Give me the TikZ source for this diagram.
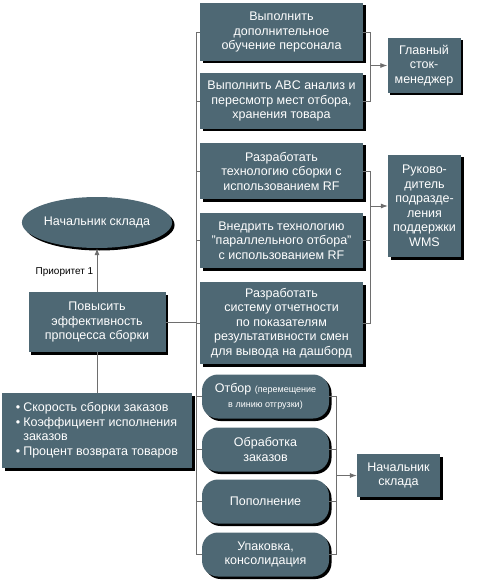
\documentclass[tikz,border=0pt]{standalone}
\usepackage{fontspec}
\setmainfont{Liberation Sans}
\usetikzlibrary{arrows.meta, positioning, shadows, shapes.geometric}
\definecolor{slate}{RGB}{78,104,116}
\definecolor{wiregray}{RGB}{110,110,110}

\begin{document}
\begin{tikzpicture}[x=1pt, y=-1pt, >={Latex[length=7pt,width=5pt]}, font=\fontsize{12.5}{14.5}\selectfont]
		\tikzstyle{box} = [fill=slate, text=white, align=center, inner sep=0pt, drop shadow={shadow xshift=2.5pt, shadow yshift=-2.5pt, fill=black, opacity=1}]
		\tikzstyle{task} = [box, minimum width=163pt]
		\tikzstyle{stage} = [box, rounded corners=16pt, minimum width=127pt, minimum height=44pt]
		\tikzstyle{role} = [box, minimum width=73pt]
		\tikzstyle{wire} = [draw=wiregray, line width=0.8pt]
		\tikzstyle{tiny} = [font=\fontsize{10}{12}\selectfont]
		
		\useasboundingbox (0,0) rectangle (476,580);
		
		% tasks
		\node[task, minimum height=58pt] 	at (281.5, 32) 		(t1) 	{Выполнить\\дополнительное\\обучение персонала};
		\node[task, minimum height=56pt] 	at (281.5, 101) 	(t2) 	{Выполнить ABC анализ и\\пересмотр мест отбора,\\хранения товара};
		\node[task, minimum height=56pt] 	at (281.5, 171) 	(t3) 	{Разработать\\технологию сборки с\\использованием RF};
		\node[task, minimum height=55pt] 	at (281.5, 240.5) 	(t4) 	{Внедрить технологию\\"параллельного отбора"\\с использованием RF};
		\node[task, minimum height=82pt] 	at (281.5, 323) 	(t5) 	{Разработать\\систему отчетности\\по показателям\\результативности смен\\для вывода на дашборд};
		
		% stages
		\node[stage] 	at (265.5, 396.5) 	(s1) 	{Отбор {\fontsize{9}{13}\selectfont (перемещение}\\{\fontsize{9}{13}\selectfont в линию отгрузки)}};
		\node[stage] 	at (265.5, 449.5) 	(s2) 	{Обработка\\заказов};
		\node[stage] 	at (265.5, 501.5) 	(s3) 	{Пополнение};
		\node[stage] 	at (265.5, 554.5) 	(s4) 	{Упаковка,\\консолидация};
		
		% roles
		\node[role, minimum height=55pt] 	at (424, 65.5) 		(stock) 	{Главный\\сток-\\менеджер};
		\node[role, minimum height=102pt] 	at (424.5, 206) 	(wms) 		{Руково-\\дитель\\подразде-\\ления\\поддержки\\WMS};
		\node[role, minimum width=83pt, minimum height=43pt] 	at (398.5, 475.5) 	(chief) 	{Начальник\\склада};
		
		% goal
		\node[box, ellipse, minimum width=143pt, minimum height=51pt] 	at (97, 222.5) 	(head) 	{Начальник склада};
		\node[box, minimum width=137pt, minimum height=60pt] 	at (97, 322) 	(goal) 	{Повысить\\эффективность\\прпоцесса сборки};
		\node[box, minimum width=190pt, minimum height=75pt] 	at (97, 430.5) 	(kpi) 	{\begin{tabular}{@{}l@{\hspace{3pt}}l@{}}
				\textbullet & Скорость сборки заказов\\
				\textbullet & Коэффициент исполнения\\
				& заказов\\
				\textbullet & Процент возврата товаров
			\end{tabular}};
		
		% left spine
		\coordinate (spine) at (196, 0);
		\draw[wire] (t1.west) -- (t1.west -| spine) -- (s4.west -| spine) -- (s4.west);
		\foreach \n in {t2, t3, t4, t5, s1, s2, s3}
			\draw[wire] (\n.west) -- (\n.west -| spine);
		\draw[wire] (goal.east) -- (goal.east -| spine);
		
		% right brackets
		\draw[wire] (t1.east) -- ++(7, 0) coordinate (k1) |- (t2.east);
		\draw[wire, ->] (k1 |- stock.west) -- (stock.west);
		
		\draw[wire] (t3.east) -- ++(7, 0) coordinate (k2) |- (t5.east);
		\draw[wire] (t4.east) -- (t4.east -| k2);
		\draw[wire, ->] (k2 |- wms.west) -- (wms.west);
		
		\draw[wire] (s1.east) -- ++(7, 0) coordinate (k3) |- (s4.east);
		\foreach \n in {s2, s3}
			\draw[wire] (\n.east) -- (\n.east -| k3);
		\draw[wire, ->] (k3 |- chief.west) -- (chief.west);
		
		% goal links
		\draw[wire, ->] (goal.north) -- node[left, pos=0.45, tiny, text=black] {Приоритет 1} (head.south);
		\draw[wire] (goal.south) -- (kpi.north);
\end{tikzpicture}
\end{document}
